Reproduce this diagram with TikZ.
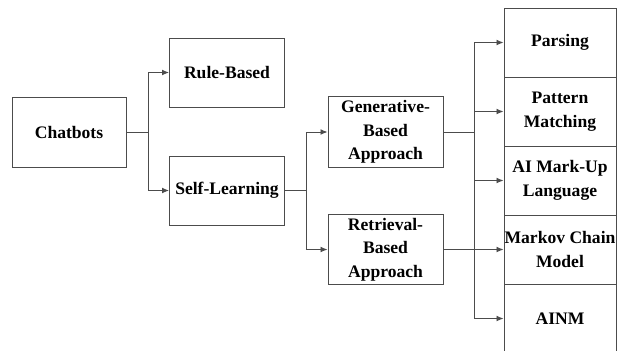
\documentclass[tikz,border=0pt]{standalone}
\usepackage{fontspec}
\setmainfont{Liberation Serif}
\usetikzlibrary{arrows.meta}

\tikzset{
	box/.style={draw=black!70,line width=.8pt,minimum width=3.45cm,minimum height=2.07cm,align=center,inner xsep=1pt,font=\fontsize{15}{20}\selectfont\bfseries},
	leaf/.style={box,minimum width=3.36cm,inner xsep=0pt},
	line/.style={draw=black!70,line width=.8pt},
	arr/.style={line,-{Latex[length=6pt,width=5pt]}}
}

\begin{document}
\begin{tikzpicture}[x=.03cm,y=-.03cm]
	\useasboundingbox (0,0) rectangle (619,350);
	% left part of the tree
	\node[box,minimum width=3.42cm,minimum height=2.1cm] (chat) at (69,132) {Chatbots};
	\node[box] (rule) at (227,72.5) {Rule-Based};
	\node[box] (self) at (227,190.5) {Self-Learning};
	\node[box,minimum height=2.1cm] (gen) at (385.5,132) {Generative-\\Based\\Approach};
	\node[box] (ret) at (385.5,249.5) {Retrieval-\\Based\\Approach};
	% column of methods
	\node[leaf] (pars) at (560,42.5) {Parsing};
	\node[leaf] (patt) at (560,111.5) {Pattern\\Matching};
	\node[leaf] (aiml) at (560,180.5) {AI Mark-Up\\Language};
	\node[leaf] (markov) at (560,249.5) {Markov Chain\\Model};
	\node[leaf] (ainm) at (560,318.5) {AINM};

	% branch lines
	\draw[line] (chat.east) -- ++(22,0) coordinate (cbus);
	\draw[line] (rule.west -| cbus) -- (self.west -| cbus);
	\draw[arr] (rule.west -| cbus) -- (rule.west);
	\draw[arr] (self.west -| cbus) -- (self.west);

	\draw[line] (self.east) -- ++(21,0) coordinate (sbus);
	\draw[line] (gen.west -| sbus) -- (ret.west -| sbus);
	\draw[arr] (gen.west -| sbus) -- (gen.west);
	\draw[arr] (ret.west -| sbus) -- (ret.west);

	\draw[line] (gen.east) -- ++(31,0) coordinate (gbus);
	\draw[line] (pars.west -| gbus) -- (ainm.west -| gbus);
	\foreach \m in {pars,patt,aiml,ainm}
		\draw[arr] (\m.west -| gbus) -- (\m.west);
	\draw[arr] (ret.east) -- (markov.west);
\end{tikzpicture}
\end{document}
